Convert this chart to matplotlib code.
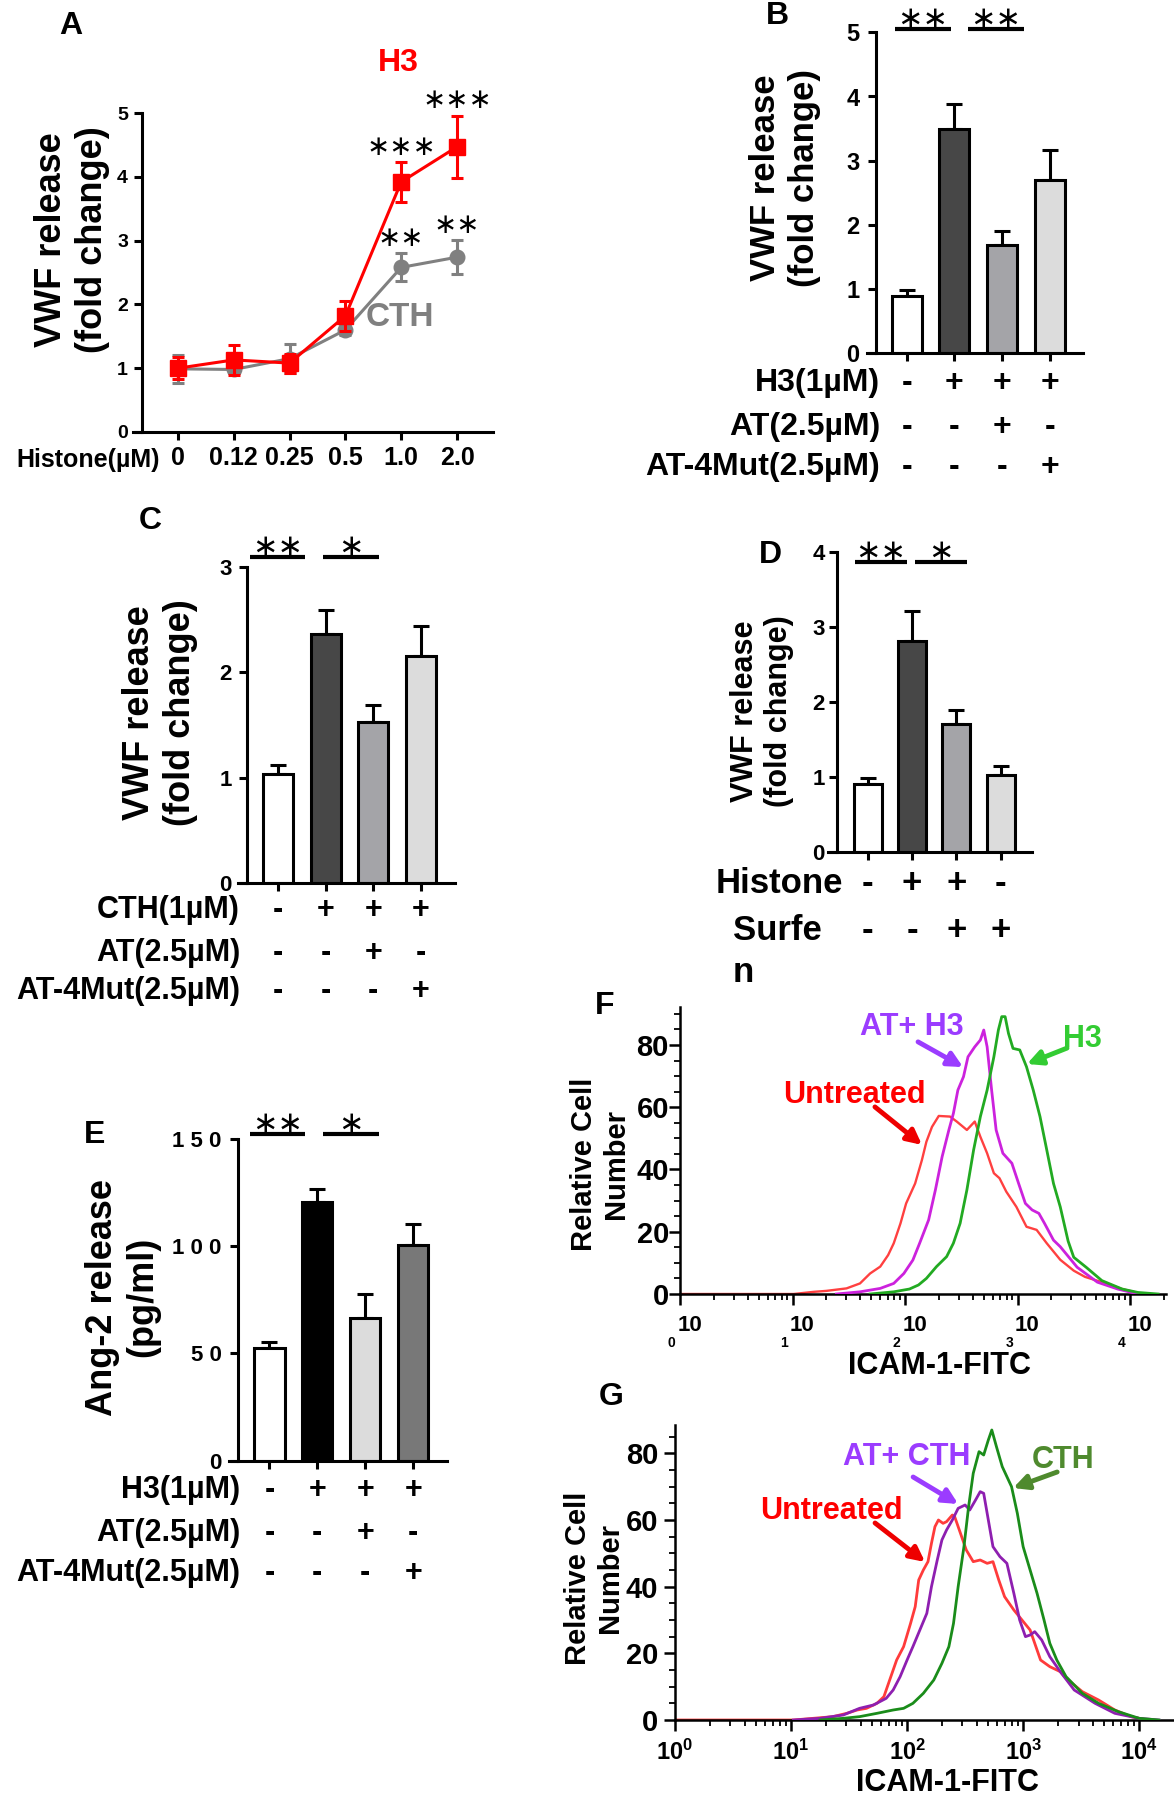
import matplotlib
matplotlib.use('Agg')
import matplotlib.pyplot as plt
import matplotlib.transforms as mtransforms
from matplotlib.ticker import MultipleLocator, LogLocator, NullFormatter
import numpy as np

plt.rcParams['font.family'] = ['Liberation Sans', 'DejaVu Sans']
plt.rcParams['font.weight'] = 'bold'
plt.rcParams['mathtext.fontset'] = 'custom'
plt.rcParams['mathtext.bf'] = 'Liberation Sans:bold'
plt.rcParams['mathtext.rm'] = 'Liberation Sans:bold'

W, H = 1174, 1800

# ---------------- data ----------------
# A: dose response
doses = ['0', '0.12', '0.25', '0.5', '1.0', '2.0']
h3_mean = [1.00, 1.13, 1.08, 1.82, 3.92, 4.47]
h3_err = [0.17, 0.23, 0.15, 0.23, 0.31, 0.49]
cth_mean = [0.99, 0.98, 1.15, 1.60, 2.58, 2.74]
cth_err = [0.22, 0.05, 0.23, 0.08, 0.22, 0.27]
h3_stars = ['', '', '', '', '∗∗∗', '∗∗∗']
cth_stars = ['', '', '', '', '∗∗', '∗∗']

# B, C, D, E: bar panels
b_means = [0.89, 3.49, 1.69, 2.70]
b_errs = [0.10, 0.39, 0.21, 0.46]
c_means = [1.04, 2.36, 1.53, 2.15]
c_errs = [0.08, 0.23, 0.16, 0.29]
d_means = [0.91, 2.82, 1.71, 1.03]
d_errs = [0.08, 0.40, 0.18, 0.11]
e_means = [52.4, 120.8, 66.4, 100.6]
e_errs = [3.1, 5.9, 11.3, 9.6]

grey_colors = ['white', '#474747', '#a4a4a8', '#dcdcdc']
e_colors = ['white', 'black', '#dcdcdc', '#787878']

b_sig = [(-0.24, 0.92, 5.05, '∗∗'), (1.28, 2.46, 5.05, '∗∗')]
c_sig = [(-0.60, 0.56, 3.09, '∗∗'), (0.94, 2.12, 3.09, '∗')]
d_sig = [(-0.29, 0.88, 3.87, '∗∗'), (1.06, 2.23, 3.87, '∗')]
e_sig = [(-0.40, 0.74, 152.3, '∗∗'), (1.12, 2.29, 152.3, '∗')]

b_rows = ['H3(1µM)', 'AT(2.5µM)', 'AT-4Mut(2.5µM)']
c_rows = ['CTH(1µM)', 'AT(2.5µM)', 'AT-4Mut(2.5µM)']
e_rows = ['H3(1µM)', 'AT(2.5µM)', 'AT-4Mut(2.5µM)']
at_signs = [['-', '+', '+', '+'], ['-', '-', '+', '-'], ['-', '-', '-', '+']]
d_signs = [['-', '+', '+', '-'], ['-', '-', '+', '+']]

# F: flow cytometry histograms (log10 fluorescence, relative cell number)
f_unt_log = [0.0, 1.01, 1.19, 1.30, 1.48, 1.60, 1.69, 1.78, 1.85, 1.90, 1.96, 2.01, 2.09, 2.15,
             2.19, 2.24, 2.30, 2.40, 2.46, 2.55, 2.62, 2.67, 2.73, 2.79, 2.84, 2.90, 2.99, 3.08,
             3.17, 3.26, 3.38, 3.50, 3.60, 3.75, 3.93, 4.11]
f_unt_y = [0, 0, 0.7, 1.0, 1.8, 3.4, 6.6, 8.8, 12.5, 16.3, 22.7, 29.1, 35.5, 43.0,
           48.9, 53.7, 57.2, 57.0, 55.4, 52.7, 55.4, 50.5, 45.2, 38.8, 37.2, 32.9, 28.0, 21.6,
           20.6, 16.3, 11.0, 7.5, 5.5, 3.8, 1.6, 0]
f_at_log = [1.39, 1.60, 1.78, 1.90, 1.99, 2.07, 2.13, 2.21, 2.27, 2.33, 2.39, 2.43, 2.47, 2.52,
            2.56, 2.62, 2.67, 2.70, 2.73, 2.77, 2.81, 2.87, 2.95, 3.01, 3.07, 3.13, 3.19, 3.24,
            3.32, 3.38, 3.53, 3.71, 3.89, 4.07]
f_at_y = [0, 0.7, 1.8, 3.4, 6.6, 10.9, 16.3, 23.8, 33.4, 44.1, 52.7, 58.0, 65.5, 69.8,
          76.2, 79.4, 81.6, 84.8, 79.4, 65.5, 52.7, 45.2, 42.0, 35.5, 29.1, 27.0, 25.9, 22.7,
          17.3, 15.2, 8.6, 3.8, 1.6, 0]
f_h3_log = [1.69, 1.90, 2.04, 2.12, 2.19, 2.28, 2.37, 2.43, 2.49, 2.55, 2.61, 2.67, 2.73, 2.79,
            2.83, 2.86, 2.89, 2.92, 2.96, 3.02, 3.08, 3.14, 3.20, 3.26, 3.32, 3.38, 3.45, 3.50,
            3.61, 3.75, 3.93, 4.07, 4.25]
f_h3_y = [0, 0.7, 1.6, 2.9, 5.0, 8.8, 12.0, 16.3, 22.7, 33.4, 46.3, 57.0, 65.5, 76.2,
          84.8, 89.1, 89.1, 83.7, 78.9, 78.4, 73.0, 65.5, 57.0, 46.3, 35.5, 28.0, 17.0, 11.8,
          8.6, 4.3, 1.6, 0.5, 0]

# G: flow cytometry histograms
g_unt_log = [0.0, 1.02, 1.19, 1.36, 1.48, 1.57, 1.65, 1.74, 1.80, 1.85, 1.91, 1.97, 2.03, 2.07,
             2.10, 2.14, 2.18, 2.21, 2.24, 2.27, 2.31, 2.34, 2.39, 2.41, 2.46, 2.51, 2.57, 2.63,
             2.69, 2.74, 2.79, 2.84, 2.92, 2.99, 3.06, 3.15, 3.23, 3.32, 3.37, 3.51, 3.65, 3.79,
             3.93, 4.07]
g_unt_y = [0, 0, 0.5, 1.0, 2.0, 3.0, 3.5, 5.0, 7.0, 12.0, 18.0, 22.0, 29.0, 34.0,
           42.0, 45.0, 47.5, 53.0, 58.0, 60.0, 59.0, 59.5, 61.5, 61.0, 56.0, 51.0, 47.5, 48.0,
           47.0, 47.5, 42.0, 37.0, 33.0, 30.0, 27.0, 18.0, 16.0, 14.5, 12.5, 8.5, 6.0, 3.0,
           1.0, 0]
g_at_log = [1.02, 1.25, 1.45, 1.59, 1.71, 1.82, 1.88, 1.94, 2.00, 2.05, 2.11, 2.17, 2.21, 2.26,
            2.30, 2.34, 2.39, 2.44, 2.50, 2.54, 2.59, 2.63, 2.66, 2.70, 2.74, 2.80, 2.86, 2.92,
            2.97, 3.02, 3.06, 3.10, 3.16, 3.23, 3.32, 3.44, 3.62, 3.79, 4.00, 4.17]
g_at_y = [0, 0.5, 1.5, 3.5, 4.5, 6.5, 9.0, 13.0, 18.0, 22.0, 27.0, 32.0, 40.0, 48.0,
          54.0, 57.0, 60.0, 63.5, 64.5, 63.0, 66.0, 68.5, 68.0, 60.0, 52.0, 49.0, 47.0, 38.0,
          30.0, 25.0, 25.5, 26.5, 24.0, 19.0, 14.5, 9.0, 5.0, 2.0, 0.5, 0]
g_cth_log = [1.25, 1.45, 1.59, 1.74, 1.88, 1.97, 2.05, 2.14, 2.23, 2.30, 2.36, 2.40, 2.44, 2.49,
             2.53, 2.57, 2.62, 2.66, 2.70, 2.73, 2.77, 2.82, 2.86, 2.90, 2.95, 3.00, 3.06, 3.12,
             3.18, 3.23, 3.29, 3.37, 3.51, 3.65, 3.82, 4.00, 4.17]
g_cth_y = [0, 0.5, 1.0, 2.0, 3.0, 3.5, 5.0, 8.0, 12.0, 17.0, 22.0, 29.0, 40.0, 52.0,
           64.0, 74.0, 80.5, 79.5, 84.0, 87.0, 82.0, 76.0, 73.0, 70.0, 62.0, 52.0, 45.0, 38.0,
           30.0, 23.0, 18.0, 13.0, 8.0, 5.0, 2.5, 0.5, 0]

fig = plt.figure(figsize=(W / 100, H / 100), dpi=100)


def add_axes_px(x0, y0, x1, y1):
    return fig.add_axes([x0 / W, 1 - y1 / H, (x1 - x0) / W, (y1 - y0) / H])


def ftext(x, y, s, **kw):
    fig.text(x / W, 1 - y / H, s, **kw)


def style(ax, x0, x1, lw=2.2, ext_px=9):
    for s in ['top', 'right']:
        ax.spines[s].set_visible(False)
    for s in ['left', 'bottom']:
        ax.spines[s].set_linewidth(lw)
    xl, xr = ax.get_xlim()
    ext = ext_px * (xr - xl) / (x1 - x0)
    ax.spines['bottom'].set_bounds(xl - ext, xr)
    ax.tick_params(width=lw, length=6, direction='out')


def bar_panel(box, means, errs, colors, ylim, yticks, yticklabels, tick_fs, ypad, sig,
              rows, signs, row_y, row_right, row_fs=22, star_fs=22):
    x0, y0, x1, y1, xl, xr = box
    ax = add_axes_px(x0, y0, x1, y1)
    x = np.arange(len(means))
    ax.bar(x, means, width=0.63, color=colors, edgecolor='black', linewidth=2.2, zorder=2)
    ax.errorbar(x, means, yerr=[np.zeros(len(errs)), errs], fmt='none', ecolor='black',
                elinewidth=2.2, capsize=6, capthick=2.2, zorder=1)
    ax.set_xlim(xl, xr)
    ax.set_ylim(*ylim)
    ax.set_xticks(x)
    ax.set_xticklabels([])
    ax.set_yticks(yticks)
    ax.set_yticklabels(yticklabels, fontsize=tick_fs)
    ax.tick_params(axis='y', pad=ypad)
    style(ax, x0, x1)
    for a, b, yv, lab in sig:
        ax.plot([a, b], [yv, yv], color='black', lw=3, clip_on=False, solid_capstyle='butt')
        ax.annotate(lab, xy=((a + b) / 2, yv), xytext=(0, 7), textcoords='offset points',
                    ha='center', va='center', fontsize=star_fs, family='DejaVu Sans',
                    weight='normal', annotation_clip=False)
    tr = mtransforms.blended_transform_factory(ax.transData, fig.transFigure)
    for r, ry in enumerate(row_y):
        if rows is not None:
            ftext(row_right, ry, rows[r], ha='right', va='center', fontsize=row_fs)
        for i, s in enumerate(signs[r]):
            ax.text(i, 1 - ry / H, s, transform=tr, ha='center', va='center',
                    fontsize=row_fs, clip_on=False)
    return ax


# ---------------- A ----------------
axA = add_axes_px(142, 113, 493, 432)
xa = np.arange(len(doses))
axA.errorbar(xa, cth_mean, yerr=cth_err, color='#808080', marker='o', ms=10.5, lw=2.2,
             elinewidth=2.2, capsize=4, capthick=2.2, zorder=2, clip_on=False)
axA.errorbar(xa, h3_mean, yerr=h3_err, color='#ff0000', marker='s', ms=11.5, lw=2.2,
             elinewidth=2.2, capsize=4, capthick=2.2, zorder=3, clip_on=False)
for i in range(len(doses)):
    if h3_stars[i]:
        axA.annotate(h3_stars[i], xy=(i, h3_mean[i] + h3_err[i]), xytext=(0, 11),
                     textcoords='offset points', ha='center', va='center', fontsize=20,
                     family='DejaVu Sans', weight='normal', annotation_clip=False)
    if cth_stars[i]:
        axA.annotate(cth_stars[i], xy=(i, cth_mean[i] + cth_err[i]), xytext=(0, 11),
                     textcoords='offset points', ha='center', va='center', fontsize=20,
                     family='DejaVu Sans', weight='normal', annotation_clip=False)
axA.set_xlim(-0.645, 5.645)
axA.set_ylim(0, 5)
axA.set_yticks(range(6))
axA.set_yticklabels([str(v) for v in range(6)], fontsize=14)
axA.set_xticks(xa)
axA.set_xticklabels(doses, fontsize=18)
style(axA, 142, 493)
axA.tick_params(axis='x', pad=4)
axA.tick_params(axis='y', pad=4)
axA.text(3.94, 5.78, 'H3', color='#ff0000', fontsize=23, ha='center', va='center', clip_on=False)
axA.text(3.98, 1.79, 'CTH', color='#808080', fontsize=24, ha='center', va='center')
ftext(160, 460, 'Histone(µM)', ha='right', va='center', fontsize=18)
ftext(72, 240, 'VWF release\n(fold change)', rotation=90, ha='center', va='center',
      fontsize=26, multialignment='center')

# ---------------- B ----------------
bar_panel((876, 32.3, 1083, 353.3, -0.64, 3.69), b_means, b_errs, grey_colors, (0, 5),
          range(6), [str(v) for v in range(6)], 17, 6, b_sig, b_rows, at_signs,
          [383, 427, 467], 880, row_fs=23)
ftext(785, 178, 'VWF release\n(fold change)', rotation=90, ha='center', va='center',
      fontsize=25, multialignment='center')

# ---------------- C ----------------
bar_panel((247, 566.7, 455, 883.3, -0.66, 3.72), c_means, c_errs, grey_colors, (0, 3),
          range(4), [str(v) for v in range(4)], 16, 5, c_sig, c_rows, at_signs,
          [910, 953, 991], 240, row_fs=22)
ftext(160, 713, 'VWF release\n(fold change)', rotation=90, ha='center', va='center',
      fontsize=26, multialignment='center')

# ---------------- D ----------------
bar_panel((837, 552.3, 1031.7, 851.7, -0.69, 3.70), d_means, d_errs, grey_colors, (0, 4),
          range(5), [str(v) for v in range(5)], 16, 3, d_sig, None, d_signs,
          [883, 930], 0, row_fs=25)
ftext(779, 883, 'Histone', ha='center', va='center', fontsize=25)
ftext(733, 930, 'Surfe', ha='left', va='center', fontsize=25)
ftext(733, 973, 'n', ha='left', va='center', fontsize=25)
ftext(762, 711, 'VWF release\n(fold change)', rotation=90, ha='center', va='center',
      fontsize=22, multialignment='center')

# ---------------- E ----------------
bar_panel((238.3, 1139, 446.7, 1460.7, -0.65, 3.70), e_means, e_errs, e_colors, (0, 150),
          [0, 50, 100, 150], ['0', '5 0', '1 0 0', '1 5 0'], 16, 6, e_sig, e_rows, at_signs,
          [1490, 1533, 1573], 240, row_fs=22)
ftext(123, 1297, 'Ang-2 release\n(pg/ml)', rotation=90, ha='center', va='center',
      fontsize=26, multialignment='center')


# ---------------- F & G ----------------
def flow_axes(x0, y0, x1, y1, xmax_log, ymax):
    ax = add_axes_px(x0, y0, x1, y1)
    ax.set_xscale('log')
    ax.set_xlim(1, 10 ** xmax_log)
    ax.set_ylim(0, ymax)
    for s in ['top', 'right']:
        ax.spines[s].set_visible(False)
    for s in ['left', 'bottom']:
        ax.spines[s].set_linewidth(1.8)
    ax.xaxis.set_major_locator(LogLocator(base=10, numticks=10))
    ax.xaxis.set_minor_locator(LogLocator(base=10, subs=np.arange(2, 10), numticks=20))
    ax.xaxis.set_minor_formatter(NullFormatter())
    ax.yaxis.set_major_locator(MultipleLocator(20))
    ax.yaxis.set_minor_locator(MultipleLocator(5))
    ax.tick_params(which='major', length=8, width=1.8)
    ax.tick_params(which='minor', length=4, width=1.3)
    ax.set_yticks([0, 20, 40, 60, 80])
    ax.set_yticklabels(['0', '20', '40', '60', '80'], fontsize=21)
    return ax


axF = flow_axes(680, 1007, 1166, 1294, 4.32, 92.2)
axF.plot(10 ** np.array(f_unt_log), f_unt_y, color='#ff4040', lw=1.7, zorder=2)
axF.plot(10 ** np.array(f_at_log), f_at_y, color='#cc22dd', lw=2.0, zorder=3)
axF.plot(10 ** np.array(f_h3_log), f_h3_y, color='#22aa22', lw=2.0, zorder=4)
axF.tick_params(axis='y', pad=0)
axF.set_xticklabels([])
for k in range(5):
    axF.annotate('10', xy=(10.0 ** k, 0), xycoords=('data', 'axes fraction'), xytext=(7, -23),
                 textcoords='offset points', ha='center', va='center', fontsize=16,
                 annotation_clip=False)
    axF.annotate(str(k), xy=(10.0 ** k, 0), xycoords=('data', 'axes fraction'), xytext=(-6, -35),
                 textcoords='offset points', ha='center', va='center', fontsize=10,
                 annotation_clip=False)
axF.text(10 ** 1.547, 63.9, 'Untreated', color='#ff0000', fontsize=22, ha='center', va='center')
axF.text(10 ** 2.062, 85.8, 'AT+ H3', color='#9b3cff', fontsize=22, ha='center', va='center')
axF.text(10 ** 3.573, 81.9, 'H3', color='#33cc33', fontsize=22, ha='center', va='center')
arrow_kw = dict(arrowstyle='-|>', lw=3.5, mutation_scale=22, shrinkA=0, shrinkB=0)
axF.annotate('', xy=(10 ** 2.151, 47.9), xytext=(10 ** 1.733, 60.1),
             arrowprops=dict(color='#ee0000', **arrow_kw))
axF.annotate('', xy=(10 ** 2.516, 72.9), xytext=(10 ** 2.116, 81.0),
             arrowprops=dict(color='#9b3cff', **arrow_kw))
axF.annotate('', xy=(10 ** 3.084, 73.9), xytext=(10 ** 3.44, 79.0),
             arrowprops=dict(color='#33cc33', **arrow_kw))
ftext(940, 1366, 'ICAM-1-FITC', ha='center', va='center', fontsize=22)
ftext(600, 1164, 'Relative Cell\nNumber', rotation=90, ha='center', va='center',
      fontsize=21, multialignment='center')

axG = flow_axes(675, 1425, 1174, 1720, 4.3, 88.5)
axG.plot(10 ** np.array(g_unt_log), g_unt_y, color='#ff3b3b', lw=2.0, zorder=2)
axG.plot(10 ** np.array(g_at_log), g_at_y, color='#8e1fb0', lw=2.0, zorder=3)
axG.plot(10 ** np.array(g_cth_log), g_cth_y, color='#1a8c1a', lw=2.0, zorder=4)
axG.tick_params(axis='y', pad=4)
axG.set_xticks([1, 10, 100, 1000, 10000])
axG.set_xticklabels([r'$\mathbf{10^{%d}}$' % k for k in range(5)], fontsize=17)
axG.tick_params(axis='x', pad=6)
axG.text(10 ** 1.345, 62.7, 'Untreated', color='#ff0000', fontsize=22, ha='center', va='center')
axG.text(10 ** 2.0, 78.9, 'AT+ CTH', color='#9b3cff', fontsize=22, ha='center', va='center')
axG.text(10 ** 3.345, 78.0, 'CTH', color='#4f8a2e', fontsize=22, ha='center', va='center')
axG.annotate('', xy=(10 ** 2.155, 47.4), xytext=(10 ** 1.724, 59.1),
             arrowprops=dict(color='#ee0000', **arrow_kw))
axG.annotate('', xy=(10 ** 2.44, 64.8), xytext=(10 ** 2.052, 72.9),
             arrowprops=dict(color='#9b3cff', **arrow_kw))
axG.annotate('', xy=(10 ** 2.914, 69.6), xytext=(10 ** 3.293, 74.4),
             arrowprops=dict(color='#4f8a2e', **arrow_kw))
ftext(948, 1798, 'ICAM-1-FITC', ha='center', va='bottom', fontsize=22)
ftext(594, 1578, 'Relative Cell\nNumber', rotation=90, ha='center', va='center',
      fontsize=21, multialignment='center')

# panel letters
for lab, (px, py) in zip('ABCDEFG', [(71, 26), (777, 16), (150, 521), (770, 555),
                                      (95, 1135), (605, 1006), (611, 1397)]):
    ftext(px, py, lab, ha='center', va='center', fontsize=23)

fig.savefig('out.png', dpi=100)
